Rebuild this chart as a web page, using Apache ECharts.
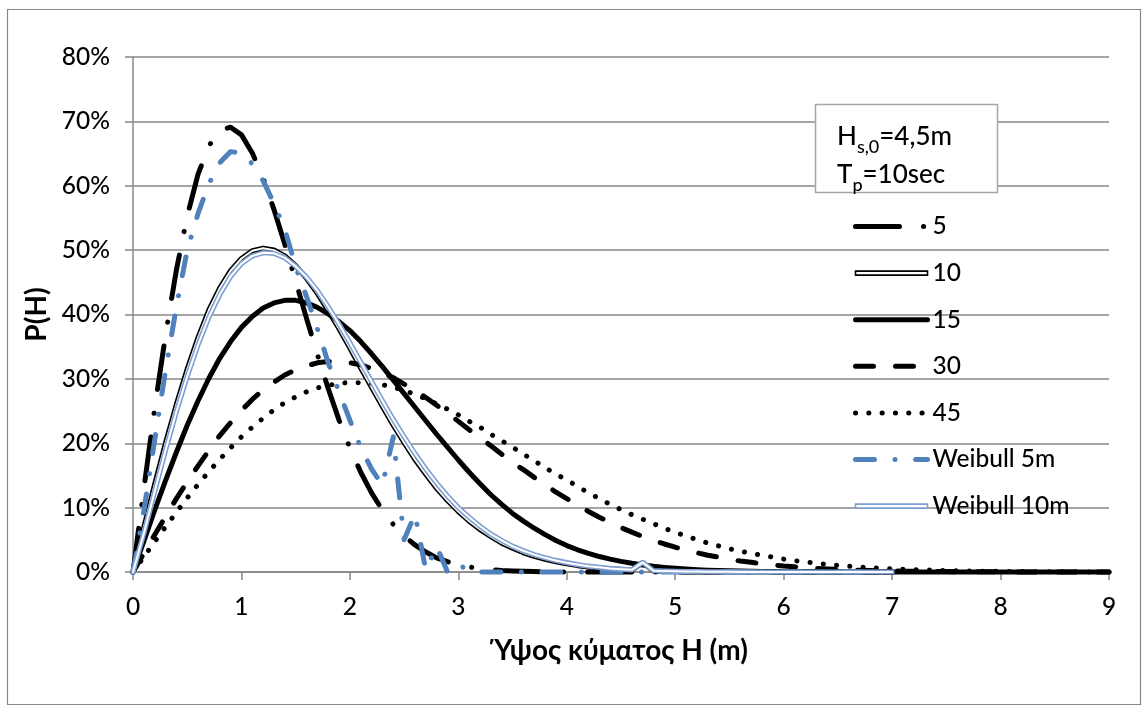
<!DOCTYPE html>
<html>
<head>
<meta charset="utf-8">
<script src="https://cdn.jsdelivr.net/npm/echarts@6/dist/echarts.min.js"></script>
<style>
  html, body { margin: 0; padding: 0; background: #fff; }
  #chart { width: 1148px; height: 713px; }
</style>
</head>
<body>
<div id="chart"></div>
<script>
// Wave height H (m), sampled every 0.1 m
const H = [0,0.1,0.2,0.3,0.4,0.5,0.6,0.7,0.8,0.9,1,1.1,1.2,1.3,1.4,1.5,1.6,1.7,1.8,1.9,
  2,2.1,2.2,2.3,2.4,2.5,2.6,2.7,2.8,2.9,3,3.1,3.2,3.3,3.4,3.5,3.6,3.7,3.8,3.9,
  4,4.1,4.2,4.3,4.4,4.5,4.6,4.7,4.8,4.9,5,5.1,5.2,5.3,5.4,5.5,5.6,5.7,5.8,5.9,
  6,6.1,6.2,6.3,6.4,6.5,6.6,6.7,6.8,6.9,7,7.1,7.2,7.3,7.4,7.5,7.6,7.7,7.8,7.9,
  8,8.1,8.2,8.3,8.4,8.5,8.6,8.7,8.8,8.9,9];

// P(H) in percent for each water depth
const P5 = [0,12.9,25.4,36.8,46.9,55.3,61.8,66.2,68.6,69.1,67.9,65.1,61.2,56.3,50.9,45.2,39.4,33.8,28.5,23.6,
  19.3,15.5,12.3,9.6,7.4,5.6,4.2,3.1,2.2,1.6,1.1,0.78,0.53,0.36,0.24,0.16,0.1,0.06,0.04,0.02,
  0.01,0,0,0,0,0,0,0,0,0,0,0,0,0,0,0,0,0,0,0,
  0,0,0,0,0,0,0,0,0,0,0];
const P10 = [0,6.9,13.6,20.0,26.0,31.5,36.4,40.7,44.1,46.8,48.7,49.9,50.3,50.0,49.1,47.6,45.6,43.3,40.6,37.8,
  34.8,31.7,28.7,25.7,22.8,20.1,17.5,15.2,13.0,11.1,9.4,7.9,6.6,5.5,4.5,3.7,3.0,2.45,2.0,1.6,
  1.3,1.0,0.8,0.62,0.48,0.37,0.28,1.45,0.16,0.12,0.08,0.06,0.04,0.03,0.02,0.01,0,0,0,0,
  0,0,0,0,0,0,0,0,0,0,0];
const P15 = [0,4.8,9.6,14.2,18.6,22.8,26.6,30.1,33.2,35.8,38.0,39.7,41.0,41.8,42.2,42.2,41.8,41.1,40.1,38.9,
  37.5,35.8,33.9,31.9,29.8,27.7,25.6,23.5,21.4,19.4,17.4,15.5,13.7,12.0,10.5,9.1,7.9,6.8,5.8,4.9,
  4.1,3.45,2.9,2.4,2.0,1.65,1.35,1.1,0.88,0.71,0.57,0.46,0.36,0.29,0.23,0.18,0.14,0.1,0.08,0.06,
  0.05,0.04,0.03,0.02,0.015,0.01,0,0,0,0,0,0,0,0,0,0,0,0,0,0,
  0,0,0,0,0,0,0,0,0,0,0];
const P30 = [0,2.9,5.8,8.6,11.4,14.0,16.5,18.9,21.2,23.2,25.1,26.8,28.3,29.5,30.6,31.4,32.0,32.5,32.7,32.7,
  32.5,32.2,31.6,30.9,30.2,29.2,28.2,27.1,25.9,24.7,23.4,22.1,20.9,19.6,18.3,17.0,15.9,14.7,13.6,12.4,
  11.4,10.4,9.4,8.5,7.7,6.9,6.2,5.5,4.9,4.35,3.85,3.4,3.0,2.6,2.3,2.0,1.7,1.5,1.27,1.1,
  0.93,0.8,0.68,0.57,0.48,0.41,0.34,0.28,0.23,0.19,0.165,0.13,0.11,0.09,0.07,0.06,0.05,0.04,0.03,0.025,
  0.02,0.015,0.01,0.01,0.01,0,0,0,0,0,0];
const P45 = [0,2.36,4.71,7.02,9.28,11.5,13.6,15.6,17.5,19.3,21.0,22.5,23.9,25.2,26.3,27.2,28.0,28.6,29.0,29.3,
  29.45,29.4,29.3,29.1,28.7,28.2,27.6,26.9,26.1,25.3,24.4,23.4,22.5,21.4,20.4,19.4,18.3,17.3,16.2,15.2,
  14.3,13.3,12.3,11.4,10.5,9.7,8.9,8.2,7.5,6.8,6.15,5.6,5.0,4.5,4.05,3.6,3.25,2.9,2.6,2.3,
  2.0,1.77,1.56,1.36,1.19,1.04,0.9,0.78,0.68,0.58,0.5,0.43,0.37,0.31,0.27,0.23,0.19,0.16,0.13,0.11,
  0.095,0.08,0.066,0.055,0.045,0.037,0.03,0.025,0.02,0.016,0.013];
const W5 = [0,9.5,20.5,31.3,41.2,50.0,55.7,60.3,63.6,65.3,65.1,63.4,60.8,57.2,53.2,47.4,42.8,37.8,32.5,28.0,
  23.6,19.3,16.0,13.5,21.0,5.0,9.0,0.3,4.0,0,1.3,0,0,0,0,0,0,0,0,0,
  0,0,0,0,0,0,0,0,0,0,0,0,0,0,0,0,0,0,0,0,
  0,0,0,0,0,0,0,0,0,0,0];
const W10 = [0,6.0,12.5,18.9,24.9,30.4,35.3,39.6,43.1,45.9,47.9,49.1,49.6,49.5,48.8,47.5,45.8,43.7,41.2,38.5,
  35.6,32.6,29.6,26.6,23.7,21.0,18.4,16.0,13.8,11.8,10.0,8.5,7.1,5.9,4.9,4.0,3.3,2.7,2.2,1.8,
  1.45,1.15,0.9,0.72,0.56,0.44,0.34,1.5,0.2,0.15,0.11,0.08,0.06,0.04,0.03,0.02,0.015,0.01,0,0,
  0,0,0,0,0,0,0,0,0,0,0];

const FONT = "Lato, 'Open Sans', 'Noto Sans', sans-serif";
const GRAY = '#878787';
const BLUE = '#4f81bd';
const LIGHT_BLUE = '#7f9fd1';
const TEXT_SIZE = 24.5;
const NAME_SIZE = 28;

const pairs = arr => arr.map((v, i) => [H[i], v]);

function line(name, data, color, width, dash, extra) {
  return Object.assign({
    name: name,
    type: 'line',
    data: pairs(data),
    symbol: 'none',
    showSymbol: false,
    clip: false,
    animation: false,
    lineStyle: { color: color, width: width, type: dash || 'solid', cap: 'round', join: 'round' },
    itemStyle: { color: color },
    emphasis: { disabled: true }
  }, extra || {});
}

const chart = echarts.init(document.getElementById('chart'), null, { renderer: 'canvas' });

chart.setOption({
  animation: false,
  backgroundColor: '#fff',
  textStyle: { fontFamily: FONT, color: '#000' },
  grid: { left: 133, right: 39, top: 57, bottom: 141, outerBoundsMode: 'none' },
  xAxis: {
    type: 'value', min: 0, max: 9, interval: 1,
    axisLine: { show: true, onZero: false, lineStyle: { color: GRAY, width: 1.5 } },
    axisTick: { show: true, length: 8, lineStyle: { color: GRAY, width: 1.5 } },
    splitLine: { show: false },
    axisLabel: { fontSize: TEXT_SIZE, fontWeight: 500, color: '#000', margin: 22.5, fontFamily: FONT },
    name: 'Ύψος κύματος H (m)',
    nameLocation: 'middle', nameGap: 65,
    nameTextStyle: { fontSize: NAME_SIZE, fontWeight: 'bold', color: '#000', fontFamily: FONT }
  },
  yAxis: {
    type: 'value', min: 0, max: 80, interval: 10,
    axisLine: { show: true, lineStyle: { color: GRAY, width: 1.5 } },
    axisTick: { show: true, length: 8, lineStyle: { color: GRAY, width: 1.5 } },
    splitLine: { show: true, lineStyle: { color: GRAY, width: 1.5 } },
    axisLabel: { fontSize: TEXT_SIZE, fontWeight: 500, color: '#000', margin: 23, formatter: '{value}%', fontFamily: FONT },
    name: 'P(H)',
    nameLocation: 'middle', nameGap: 79,
    nameTextStyle: { fontSize: NAME_SIZE, fontWeight: 'bold', color: '#000', fontFamily: FONT }
  },
  legend: {
    orient: 'vertical', left: 853, top: 214, padding: 0,
    itemWidth: 72, itemHeight: 14, itemGap: 21.6,
    selectedMode: false,
    textStyle: { fontSize: TEXT_SIZE, fontWeight: 500, lineHeight: 24, color: '#000', fontFamily: FONT },
    itemStyle: { opacity: 0 },
    lineStyle: { width: 'inherit' },
    data: [
      '5',
      { name: '10', icon: 'path://M0,0H72V4H0Z', itemStyle: { color: '#fff', borderColor: '#000', borderWidth: 1.6, opacity: 1 } },
      '15', '30', '45', 'Weibull 5m',
      { name: 'Weibull 10m', icon: 'path://M0,0H72V4H0Z', itemStyle: { color: '#fff', borderColor: LIGHT_BLUE, borderWidth: 1.6, opacity: 1 } }
    ]
  },
  graphic: [
    { type: 'rect', z: 100, silent: true,
      shape: { x: 7.5, y: 9.5, width: 1133, height: 695 },
      style: { fill: 'none', stroke: GRAY, lineWidth: 1.2 } },
    { type: 'rect', z: 100, silent: true,
      shape: { x: 815.5, y: 104.5, width: 182, height: 88 },
      style: { fill: '#fff', stroke: '#a6a6a6', lineWidth: 1.5 } },
    { type: 'text', z: 101, silent: true, x: 837, y: 118,
      style: {
        text: '{a|H}{b|s,0}{a|=4,5m}\n{a|T}{b|p}{a|=10sec}',
        fill: '#000',
        rich: {
          a: { fontSize: 26, fontWeight: 500, lineHeight: 38, fontFamily: FONT, fill: '#000' },
          b: { fontSize: 18, fontWeight: 500, lineHeight: 17, padding: [20, 0, 0, 0], fontFamily: FONT, fill: '#000' }
        }
      } }
  ],
  series: [
    line('5', P5, '#000', 5, [44, 24, 0.1, 24]),
    line('10', P10, '#000', 5.2),
    line('10 core', P10, '#fff', 2, null, { silent: true }),
    line('15', P15, '#000', 5),
    line('30', P30, '#000', 5, [18, 22]),
    line('45', P45, '#000', 5, [0.1, 13.2]),
    line('Weibull 5m', W5, BLUE, 5, [19, 20.5, 0.1, 20.5]),
    line('Weibull 10m', W10, LIGHT_BLUE, 5.2),
    line('Weibull 10m core', W10, '#fff', 2, null, { silent: true })
  ]
});
</script>
</body>
</html>
